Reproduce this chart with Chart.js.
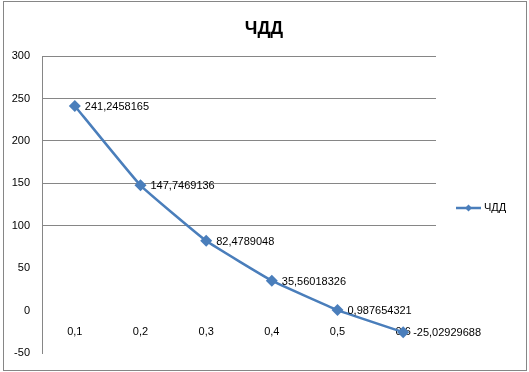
<!DOCTYPE html>
<html>
<head>
<meta charset="utf-8">
<script src="https://cdn.jsdelivr.net/npm/chart.js@4"></script>
<style>
    html, body { margin: 0; padding: 0; background: #fff; }
    #wrap { width: 529px; height: 372px; }
</style>
</head>
<body>
<div id="wrap"><canvas id="c"></canvas></div>
<script>

let categories = [ '0,1', '0,2', '0,3', '0,4', '0,5', '0,6' ],
    values = [ 241.2458165, 147.7469136, 82.4789048, 35.56018326, 0.987654321, -25.02929688 ],
    valueLabels = [ '241,2458165', '147,7469136', '82,4789048', '35,56018326', '0,987654321', '-25,02929688' ],
    seriesName = 'ЧДД',
    yTicks = [ -50, 0, 50, 100, 150, 200, 250, 300 ];

let blue = '#4a7ebb',
    gray = '#868686',
    font = '"Liberation Sans", Arial, sans-serif';

/**
 * frame, title, data labels and legend, drawn like the excel chart
 */
let decor = {
    id: 'decor',
    afterDraw( chart ) {

        let ctx = chart.ctx,
            meta = chart.getDatasetMeta( 0 );

        ctx.save();

        // outer frame
        ctx.strokeStyle = gray;
        ctx.lineWidth = 1;
        ctx.strokeRect( 3.5, 1.5, 523, 369 );

        // title, centred on the whole chart
        ctx.fillStyle = '#000';
        ctx.font = 'bold 18px ' + font;
        ctx.textAlign = 'center';
        ctx.textBaseline = 'middle';
        ctx.fillText( seriesName, 264, 29 );

        // value labels
        ctx.font = '11px ' + font;
        ctx.textAlign = 'left';
        meta.data.forEach( ( p, i ) => {
            ctx.fillText( valueLabels[ i ], p.x + 10, p.y + 1 );
        } );

        // legend
        let ly = 208;
        ctx.strokeStyle = blue;
        ctx.lineWidth = 2.5;
        ctx.beginPath();
        ctx.moveTo( 456, ly );
        ctx.lineTo( 481, ly );
        ctx.stroke();
        ctx.fillStyle = blue;
        ctx.beginPath();
        ctx.moveTo( 468.5, ly - 3.5 );
        ctx.lineTo( 472, ly );
        ctx.lineTo( 468.5, ly + 3.5 );
        ctx.lineTo( 465, ly );
        ctx.closePath();
        ctx.fill();
        ctx.fillStyle = '#000';
        ctx.font = '11px ' + font;
        ctx.fillText( seriesName, 484, ly );

        ctx.restore();

    }
};

new Chart( document.getElementById( 'c' ).getContext( '2d' ), {
    type: 'line',
    data: {
        labels: categories,
        datasets: [ {
            label: seriesName,
            data: values,
            borderColor: blue,
            backgroundColor: blue,
            borderWidth: 2.5,
            pointStyle: 'rectRot',
            pointRadius: 6,
            pointBorderWidth: 0,
            lineTension: 0.1
        } ]
    },
    options: {
        responsive: true,
        maintainAspectRatio: false,
        animation: false,
        layout: {
            padding: { left: 0, right: 93, bottom: 9, top: 56 }
        },
        plugins: {
            legend: { display: false },
            tooltip: { enabled: false },
            title: { display: false }
        },
        scales: {
            x: {
                position: { y: 0 },
                offset: true,
                afterFit: ( scale ) => {
                    scale.height = 0;
                },
                border: { display: false },
                grid: { display: false, drawTicks: false },
                ticks: {
                    color: '#000',
                    padding: 14,
                    font: { family: font, size: 11 }
                }
            },
            y: {
                min: yTicks[0],
                max: yTicks[ yTicks.length - 1 ],
                afterBuildTicks: ( scale ) => {
                    scale.ticks = yTicks.map( v => ( { value: v } ) );
                },
                afterFit: ( scale ) => {
                    scale.width = 42;
                },
                border: { display: true, color: gray, width: 1 },
                grid: {
                    drawTicks: false,
                    color: ( c ) => c.tick && c.tick.value >= 100 ? gray : 'rgba(0,0,0,0)'
                },
                ticks: {
                    color: '#000',
                    padding: 12,
                    font: { family: font, size: 11 }
                }
            }
        }
    },
    plugins: [ decor ]
} );

</script>
</body>
</html>
